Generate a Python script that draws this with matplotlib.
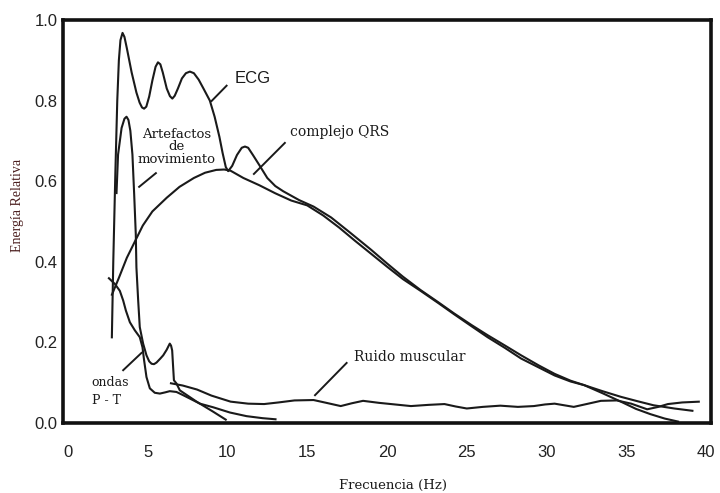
import numpy as np
import matplotlib
matplotlib.use("Agg")
import matplotlib.pyplot as plt

# 曲线数据 (频率 Hz, 相对能量)
ecg_x = [2.76, 2.85, 2.98, 3.1, 3.2, 3.3, 3.43, 3.55, 3.7, 4.0, 4.3, 4.5, 4.65, 4.78, 4.92, 5.1,
         5.3, 5.5, 5.65, 5.8, 5.95, 6.2, 6.4, 6.55, 6.7, 6.9, 7.15, 7.4, 7.65, 7.9, 8.2, 8.5, 8.9,
         9.2, 9.5, 9.7, 9.9, 10.05, 10.3, 10.6, 10.9, 11.1, 11.3, 11.6, 12.0, 12.5, 13.0, 13.5,
         14.5, 15.4, 16.5, 17.7, 19.0, 20.0, 21.0, 22.1, 23.2, 24.2, 25.3, 26.3, 27.4, 28.4,
         29.5, 30.5, 31.5, 32.35, 33.5, 34.65, 35.6, 36.5, 37.4, 38.3]
ecg_y = [0.21, 0.40, 0.62, 0.80, 0.90, 0.95, 0.968, 0.958, 0.93, 0.87, 0.82, 0.795, 0.783, 0.78,
         0.785, 0.81, 0.85, 0.884, 0.895, 0.89, 0.87, 0.83, 0.811, 0.805, 0.812, 0.83, 0.855,
         0.868, 0.872, 0.868, 0.852, 0.83, 0.80, 0.76, 0.71, 0.67, 0.635, 0.625, 0.638, 0.665,
         0.683, 0.686, 0.683, 0.665, 0.640, 0.608, 0.588, 0.575, 0.553, 0.537, 0.51, 0.472, 0.43,
         0.396, 0.363, 0.33, 0.30, 0.272, 0.243, 0.218, 0.192, 0.168, 0.143, 0.122, 0.105, 0.094,
         0.074, 0.053, 0.035, 0.022, 0.011, 0.003]

qrs_x = [2.74, 3.2, 3.7, 4.2, 4.7, 5.3, 6.2, 7.0, 7.9, 8.6, 9.3, 9.8, 10.2, 11.0, 12.0, 13.0,
         14.0, 15.0, 16.0, 17.0, 18.0, 19.0, 20.0, 21.0, 22.1, 23.2, 24.2, 25.3, 26.3, 27.4,
         28.4, 29.5, 30.5, 31.5, 32.35, 33.5, 34.65, 35.7, 36.7, 38.0, 39.2]
qrs_y = [0.316, 0.36, 0.41, 0.45, 0.49, 0.525, 0.559, 0.586, 0.608, 0.621, 0.628, 0.629, 0.626,
         0.608, 0.590, 0.570, 0.552, 0.54, 0.515, 0.485, 0.452, 0.42, 0.388, 0.357, 0.328, 0.298,
         0.27, 0.24, 0.213, 0.186, 0.16, 0.138, 0.118, 0.103, 0.094, 0.079, 0.065, 0.054, 0.044,
         0.036, 0.030]

art_x = [3.05, 3.15, 3.37, 3.55, 3.68, 3.8, 3.92, 4.05, 4.16, 4.26, 4.3, 4.41, 4.51, 4.72, 4.93,
         5.1, 5.25, 5.4, 5.56, 5.8, 5.98, 6.2, 6.3, 6.39, 6.47, 6.54, 6.6, 6.65, 6.81, 7.02, 8.07,
         9.11, 9.95]
art_y = [0.568, 0.666, 0.732, 0.755, 0.760, 0.752, 0.725, 0.666, 0.567, 0.469, 0.386, 0.304,
         0.238, 0.197, 0.168, 0.153, 0.147, 0.146, 0.150, 0.160, 0.168, 0.182, 0.190, 0.197, 0.192,
         0.18, 0.139, 0.106, 0.098, 0.081, 0.053, 0.028, 0.007]

pt_x = [2.53, 2.95, 3.26, 3.47, 3.64, 3.89, 4.2, 4.51, 4.68, 4.78, 4.93, 5.14, 5.45, 5.77, 6.1,
        6.39, 6.81, 7.23, 8.28, 9.11, 10.16, 11.2, 12.2, 13.08]
pt_y = [0.361, 0.345, 0.328, 0.304, 0.279, 0.250, 0.230, 0.213, 0.188, 0.156, 0.114, 0.086, 0.075,
        0.073, 0.076, 0.079, 0.077, 0.069, 0.048, 0.039, 0.026, 0.017, 0.012, 0.009]

emg_x = [6.4, 7.2, 8.1, 9.0, 10.2, 11.3, 12.3, 13.2, 14.2, 15.4, 16.2, 17.1, 17.8, 18.5, 19.5,
         20.5, 21.5, 22.6, 23.6, 24.3, 25.0, 26.0, 27.1, 28.2, 29.2, 29.9, 30.5, 31.1, 31.7, 32.5,
         33.4, 34.4, 35.3, 36.3, 37.0, 37.6, 38.5, 39.6]
emg_y = [0.099, 0.093, 0.083, 0.068, 0.053, 0.048, 0.047, 0.051, 0.056, 0.057, 0.050, 0.042, 0.049,
         0.055, 0.050, 0.046, 0.042, 0.045, 0.047, 0.041, 0.036, 0.040, 0.043, 0.040, 0.042, 0.046,
         0.048, 0.044, 0.040, 0.047, 0.055, 0.056, 0.048, 0.034, 0.040, 0.047, 0.051, 0.053]

x_ticks = [0, 5, 10, 15, 20, 25, 30, 35, 40]
y_ticks = [0.0, 0.2, 0.4, 0.6, 0.8, 1.0]

# 标注: 文本与指引线
labels = ["ECG", "complejo QRS", "Artefactos\nde\nmovimiento", "ondas\nP - T", "Ruido muscular"]
leader_lines = [
    ([9.01, 9.95], [0.799, 0.837]),
    ([11.66, 13.6], [0.618, 0.695]),
    ([4.47, 5.52], [0.586, 0.62]),
    ([3.47, 4.62], [0.131, 0.174]),
    ([15.49, 17.47], [0.069, 0.149]),
]

ink = "#1a1a1a"

fig = plt.figure(figsize=(7.2, 4.93), dpi=100)
ax = fig.add_axes([63 / 720, 1 - 423 / 493, 648 / 720, 403 / 493])

for xs, ys in [(ecg_x, ecg_y), (qrs_x, qrs_y), (art_x, art_y), (pt_x, pt_y), (emg_x, emg_y)]:
    ax.plot(xs, ys, color=ink, lw=1.5, solid_joinstyle="round", solid_capstyle="butt")

for xs, ys in leader_lines:
    ax.plot(xs, ys, color=ink, lw=1.4)

serif = ["DejaVu Serif"]
ax.text(11.6, 0.854, labels[0], family=["Liberation Sans"], fontsize=12, color=ink,
        ha="center", va="center")
ax.text(17.05, 0.721, labels[1], family=serif, fontsize=10, color=ink, ha="center", va="center")
ax.text(6.83, 0.686, labels[2], family=serif, fontsize=9.5, color=ink, ha="center", va="center",
        linespacing=0.95)
ax.text(1.5, 0.079, labels[3], family=serif, fontsize=9, color=ink, ha="left", va="center",
        linespacing=1.5)
ax.text(21.4, 0.163, labels[4], family=serif, fontsize=10, color=ink, ha="center", va="center")

ax.set_xlim(-0.3, 40.3)
ax.set_ylim(0, 1.0)
ax.set_xticks(x_ticks)
ax.set_xticklabels([str(t) for t in x_ticks], family=["Liberation Sans"], fontsize=12)
ax.set_yticks(y_ticks)
ax.set_yticklabels([f"{t:.1f}" for t in y_ticks], family=["Liberation Sans"], fontsize=12)
ax.tick_params(axis="x", length=0, pad=16, colors="#222222")
ax.tick_params(axis="y", length=0, pad=4, colors="#222222")

for sp in ax.spines.values():
    sp.set_linewidth(2.6)
    sp.set_color("#111111")

# 坐标轴标题
fig.text(393 / 720, 1 - 485 / 493, "Frecuencia (Hz)", family=serif, fontsize=9.5, color=ink,
         ha="center", va="center")
fig.text(18 / 720, 1 - 205 / 493, "Energía Relativa", family=["Liberation Serif"], fontsize=10,
         color="#4b1e1e", rotation=90, ha="center", va="center")

plt.savefig("out.png", dpi=100)
